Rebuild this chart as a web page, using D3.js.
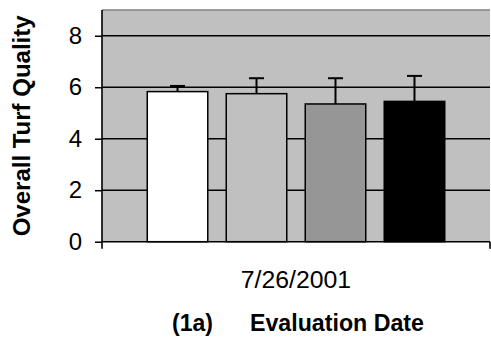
<html>
<head>
    <script src="https://d3js.org/d3.v7.min.js"></script>
</head>
<style>
    body { margin: 0; background: white; }
    svg { font-family: "Liberation Sans", Arial, sans-serif; }
</style>
<body>
    <svg id="chart" width="491" height="337"></svg>
    <script>
        // data
        const dates = ["7/26/2001"];
        const treatments = ["T1", "T2", "T3", "T4"];
        const quality = [5.83, 5.75, 5.35, 5.45];
        const stdErr = [0.22, 0.6, 1.0, 0.99];
        const barColors = ["#ffffff", "#c0c0c0", "#969696", "#000000"];
        const yTicks = [0, 2, 4, 6, 8];

        const svg = d3.select("svg#chart");
        const plot = { left: 102, right: 490, top: 10, bottom: 241.7 };

        const y = d3.scaleLinear().domain([0, 9]).range([plot.bottom, plot.top]);
        const x0 = d3.scaleBand().domain(dates).range([plot.left, plot.right]);
        const x1 = d3.scaleBand().domain(treatments)
                     .range([0, x0.bandwidth()])
                     .paddingInner(0.234).paddingOuter(0.573);

        // plot background
        svg.append("rect")
           .attr("x", plot.left).attr("y", plot.top)
           .attr("width", plot.right - plot.left).attr("height", plot.bottom - plot.top)
           .attr("fill", "#c0c0c0");
        svg.append("line")
           .attr("x1", plot.left).attr("x2", plot.right)
           .attr("y1", plot.top).attr("y2", plot.top)
           .attr("stroke", "#808080").attr("stroke-width", 1.5);

        // gridlines
        svg.selectAll("line.grid").data(yTicks.filter(d => d > 0))
           .join("line").attr("class", "grid")
           .attr("x1", plot.left).attr("x2", plot.right)
           .attr("y1", d => y(d)).attr("y2", d => y(d))
           .attr("stroke", "black").attr("stroke-width", 1.5);

        // bars
        const rows = treatments.map((t, i) => ({ t: t, v: quality[i], e: stdErr[i], c: barColors[i] }));
        const g = svg.append("g").attr("transform", "translate(" + x0(dates[0]) + ",0)");
        g.selectAll("rect.bar").data(rows)
           .join("rect").attr("class", "bar")
           .attr("x", d => x1(d.t)).attr("width", x1.bandwidth())
           .attr("y", d => y(d.v)).attr("height", d => y(0) - y(d.v))
           .attr("fill", d => d.c)
           .attr("stroke", "black").attr("stroke-width", 1.5);

        // error bars (upper only)
        const cx = d => x1(d.t) + x1.bandwidth() / 2;
        g.selectAll("line.err").data(rows)
           .join("line").attr("class", "err")
           .attr("x1", cx).attr("x2", cx)
           .attr("y1", d => y(d.v)).attr("y2", d => y(d.v + d.e))
           .attr("stroke", "black").attr("stroke-width", 2);
        g.selectAll("line.cap").data(rows)
           .join("line").attr("class", "cap")
           .attr("x1", d => cx(d) - 7.5).attr("x2", d => cx(d) + 7.5)
           .attr("y1", d => y(d.v + d.e)).attr("y2", d => y(d.v + d.e))
           .attr("stroke", "black").attr("stroke-width", 2);

        // y axis
        const yAxis = svg.append("g")
           .attr("transform", "translate(" + plot.left + ",0)")
           .call(d3.axisLeft(y).tickValues(yTicks).tickSize(7).tickPadding(13));
        yAxis.select(".domain").remove();
        yAxis.selectAll(".tick line").attr("stroke", "black").attr("stroke-width", 1.5);
        yAxis.selectAll(".tick text")
           .attr("font-family", "Liberation Sans, Arial, sans-serif")
           .attr("font-size", 24).attr("fill", "black");
        svg.append("line")
           .attr("x1", plot.left).attr("x2", plot.left)
           .attr("y1", plot.top).attr("y2", plot.bottom + 7)
           .attr("stroke", "black").attr("stroke-width", 1.6);

        // x axis
        svg.append("line")
           .attr("x1", plot.left).attr("x2", plot.right)
           .attr("y1", plot.bottom).attr("y2", plot.bottom)
           .attr("stroke", "black").attr("stroke-width", 1.6);
        svg.append("line")
           .attr("x1", plot.right).attr("x2", plot.right)
           .attr("y1", plot.bottom).attr("y2", plot.bottom + 7)
           .attr("stroke", "black").attr("stroke-width", 1.6);

        svg.selectAll("text.date").data(dates)
           .join("text").attr("class", "date")
           .attr("x", d => x0(d) + x0.bandwidth() / 2).attr("y", 288)
           .attr("text-anchor", "middle").attr("font-size", 24.8)
           .text(d => d);

        // titles
        svg.append("text")
           .attr("x", 172).attr("y", 331)
           .attr("font-size", 23).attr("font-weight", "bold")
           .text("(1a)");
        svg.append("text")
           .attr("x", 250).attr("y", 331)
           .attr("font-size", 23.2).attr("font-weight", "bold")
           .text("Evaluation Date");
        svg.append("text")
           .attr("transform", "translate(30," + (plot.top + plot.bottom) / 2 + ") rotate(-90)")
           .attr("text-anchor", "middle")
           .attr("font-size", 24).attr("font-weight", "bold")
           .text("Overall Turf Quality");
    </script>
</body>
</html>
